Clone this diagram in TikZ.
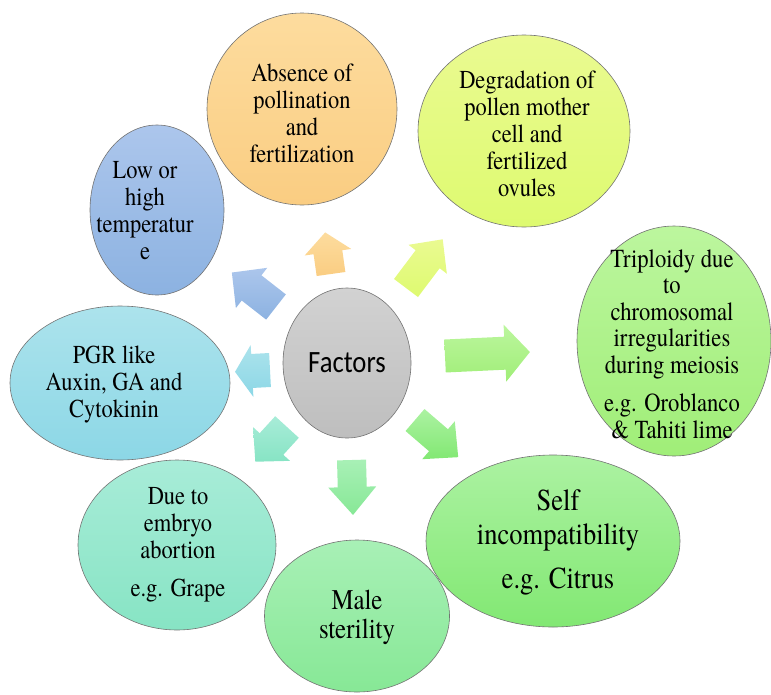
\documentclass[tikz,border=0pt]{standalone}
\usepackage{fontspec}
\setmainfont{TeX Gyre Termes}[FakeStretch=0.87]
\newfontfamily\calib{Carlito}[FakeStretch=0.86]
\usetikzlibrary{shapes.geometric}
\definecolor{orT}{RGB}{253,220,158}\definecolor{orB}{RGB}{250,205,130}
\definecolor{yeT}{RGB}{234,250,145}\definecolor{yeB}{RGB}{222,250,112}
\definecolor{blT}{RGB}{172,198,236}\definecolor{blB}{RGB}{140,178,225}
\definecolor{cyT}{RGB}{172,227,236}\definecolor{cyB}{RGB}{140,215,230}
\definecolor{tlT}{RGB}{168,236,216}\definecolor{tlB}{RGB}{135,228,196}
\definecolor{mgT}{RGB}{168,240,182}\definecolor{mgB}{RGB}{135,232,150}
\definecolor{sgT}{RGB}{172,242,162}\definecolor{sgB}{RGB}{130,232,115}
\definecolor{tgT}{RGB}{188,246,158}\definecolor{tgB}{RGB}{160,238,120}
\definecolor{grT}{RGB}{210,210,210}\definecolor{grB}{RGB}{190,190,190}
\begin{document}
\begin{tikzpicture}[x=1pt,y=-1pt,
  blob/.style={ellipse, draw=black!55, line width=0.6pt, inner sep=0pt},
  txt/.style={align=center, font=\rmfamily\fontsize{25.8}{27}\selectfont, inner sep=0pt},
  pics/barrow/.style n args={5}{code={%
    \shade[#5] (0,-#2) -- ({#1-#4},-#2) -- ({#1-#4},-#3) -- (#1,0) -- ({#1-#4},#3) -- ({#1-#4},#2) -- (0,#2) -- cycle;}}]
\useasboundingbox (0,0) rectangle (771,694);

% ellipses
\node[blob, top color=orT, bottom color=orB, minimum width=190pt, minimum height=192pt] (o1) at (302,109) {};
\node[blob, top color=yeT, bottom color=yeB, minimum width=212pt, minimum height=192pt] (o2) at (524,131) {};
\node[blob, top color=blT, bottom color=blB, minimum width=134pt, minimum height=170pt] (o3) at (157,210) {};
\node[blob, top color=tgT, bottom color=tgB, minimum width=194pt, minimum height=230pt] (o4) at (674,341) {};
\node[blob, top color=cyT, bottom color=cyB, minimum width=220pt, minimum height=154pt] (o5) at (120,383) {};
\node[blob, top color=tlT, bottom color=tlB, minimum width=198pt, minimum height=170pt] (o6) at (177,545) {};
\node[blob, top color=sgT, bottom color=sgB, minimum width=254pt, minimum height=172pt] (o8) at (553,541) {};
\node[blob, top color=mgT, bottom color=mgB, minimum width=185pt, minimum height=152pt] (o7) at (357,616) {};
\node[blob, top color=grT, bottom color=grB, minimum width=128pt, minimum height=150pt] (f) at (347,363) {};

% texts
\node[txt] (t1) at (302,113) {Absence of\\pollination\\and\\fertilization};
\node[txt] (t2) at (527,134) {Degradation of\\pollen mother\\cell and\\fertilized\\ovules};
\node[txt] (t3) at (145,211) {Low or\\high\\temperatur\\e};
\node[txt, font=\rmfamily\fontsize{26}{26.5}\selectfont] (t4) at (672,344) {Triploidy due\\to\\chromosomal\\irregularities\\during meiosis\\[12pt]e.g. Oroblanco\\\& Tahiti lime};
\node[txt] (t5) at (114,384) {PGR like\\Auxin, GA and\\Cytokinin};
\node[txt] (t6) at (178,545) {Due to\\embryo\\abortion\\[11pt]e.g. Grape};
\node[txt, font=\rmfamily\fontsize{28.5}{29}\selectfont] (t7) at (357,617) {Male\\sterility};
\node[txt, font=\rmfamily\fontsize{30.5}{34.5}\selectfont] (t8) at (558,542) {Self\\incompatibility\\[9pt]e.g. Citrus};
\node[txt, font=\calib\fontsize{31}{32}\selectfont] (tf) at (f.center) {Factors};

% block arrows
\pic[rotate=98]    at (331,274) {barrow={42}{14.5}{23.5}{20}{top color=orT,bottom color=orB}};
\pic[rotate=53]    at (406,288) {barrow={61}{15}{24}{25}{top color=yeT,bottom color=yeB}};
\pic[rotate=142]   at (276,307) {barrow={56}{16}{25.5}{25}{top color=blT,bottom color=blB}};
\pic[rotate=183]   at (270,370) {barrow={35}{17}{26}{17}{top color=cyT,bottom color=cyB}};
\pic[rotate=2.7]   at (445,356) {barrow={85}{16.5}{28.5}{25}{top color=tgT,bottom color=tgB}};
\pic[rotate=-40.7] at (415,420) {barrow={57}{14.5}{25}{26}{top color=sgT,bottom color=sgB}};
\pic[rotate=-88.4] at (351.5,460) {barrow={55}{14.5}{24}{28}{top color=mgT,bottom color=mgB}};
\pic[rotate=-132.4] at (287,427) {barrow={47}{16}{25}{24}{top color=tlT,bottom color=tlB}};
\end{tikzpicture}
\end{document}
